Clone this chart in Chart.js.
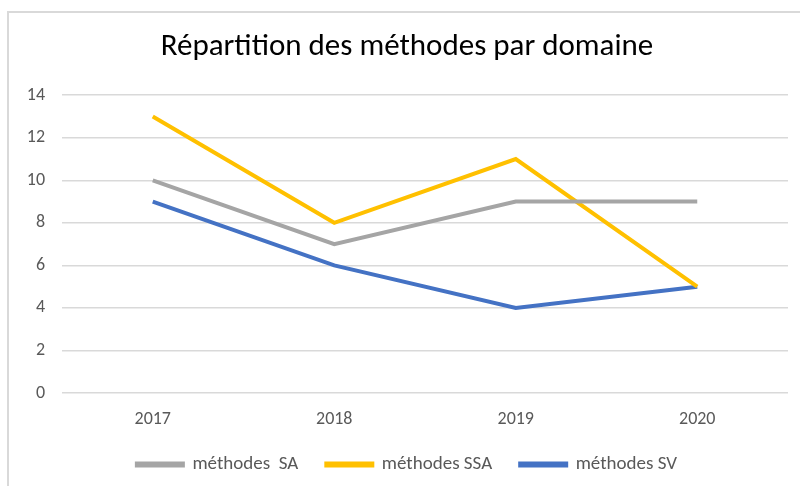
<!DOCTYPE html>
<html lang="fr">
<head>
<meta charset="UTF-8">
<title>Répartition des méthodes par domaine</title>
<script src="https://cdn.jsdelivr.net/npm/chart.js@4.4.0/dist/chart.umd.min.js"></script>
<style>
    body { margin: 0; background: #fff; }
    .frame {
        position: absolute;
        left: 7px; top: 11px;
        width: 820px; height: 500px;
        border: 2px solid #d9d9d9;
    }
    .wrap {
        position: absolute;
        left: 0; top: 0;
        width: 800px; height: 486px;
    }
</style>
</head>
<body>
<div class="frame"></div>
<div class="wrap"><canvas id="chart"></canvas></div>
<script>
    // Données
    const years = ['2017', '2018', '2019', '2020'];
    const methodesSA = [10, 7, 9, 9];
    const methodesSSA = [13, 8, 11, 5];
    const methodesSV = [9, 6, 4, 5];

    const fontFamily = "'Carlito', 'Liberation Sans Narrow', 'Open Sans', sans-serif";
    const textColor = '#595959';

    function serie(label, data, color) {
        return {
            label: label,
            data: data,
            borderColor: color,
            backgroundColor: color,
            borderWidth: 4,
            pointRadius: 0,
            tension: 0
        };
    }

    new Chart(document.getElementById('chart'), {
        type: 'line',
        data: {
            labels: years,
            datasets: [
                serie('méthodes  SA', methodesSA, '#a5a5a5'),
                serie('méthodes SSA', methodesSSA, '#ffc000'),
                serie('méthodes SV', methodesSV, '#4472c4')
            ]
        },
        options: {
            responsive: true,
            maintainAspectRatio: false,
            animation: false,
            layout: { padding: { left: 26, right: 12, top: 29, bottom: 2 } },
            plugins: {
                title: {
                    display: true,
                    text: 'Répartition des méthodes par domaine',
                    color: '#000',
                    font: { family: fontFamily, size: 31, weight: 'normal' },
                    padding: { top: 0, bottom: 29 }
                },
                legend: {
                    position: 'bottom',
                    labels: {
                        color: textColor,
                        font: { family: fontFamily, size: 19 },
                        boxWidth: 46,
                        boxHeight: 2,
                        padding: 28
                    }
                },
                tooltip: { enabled: false }
            },
            scales: {
                x: {
                    offset: true,
                    afterFit: function(scale) { scale.height = 34; },
                    grid: { display: false, drawTicks: false },
                    border: { display: false },
                    ticks: {
                        color: textColor,
                        font: { family: fontFamily, size: 18 },
                        padding: 16
                    }
                },
                y: {
                    min: 0,
                    max: 14,
                    afterFit: function(scale) { scale.width = 36; },
                    grid: { color: '#d9d9d9', lineWidth: 1.5, drawTicks: false },
                    border: { display: false },
                    ticks: {
                        stepSize: 2,
                        color: textColor,
                        font: { family: fontFamily, size: 18 },
                        padding: 17
                    }
                }
            }
        }
    });
</script>
</body>
</html>
